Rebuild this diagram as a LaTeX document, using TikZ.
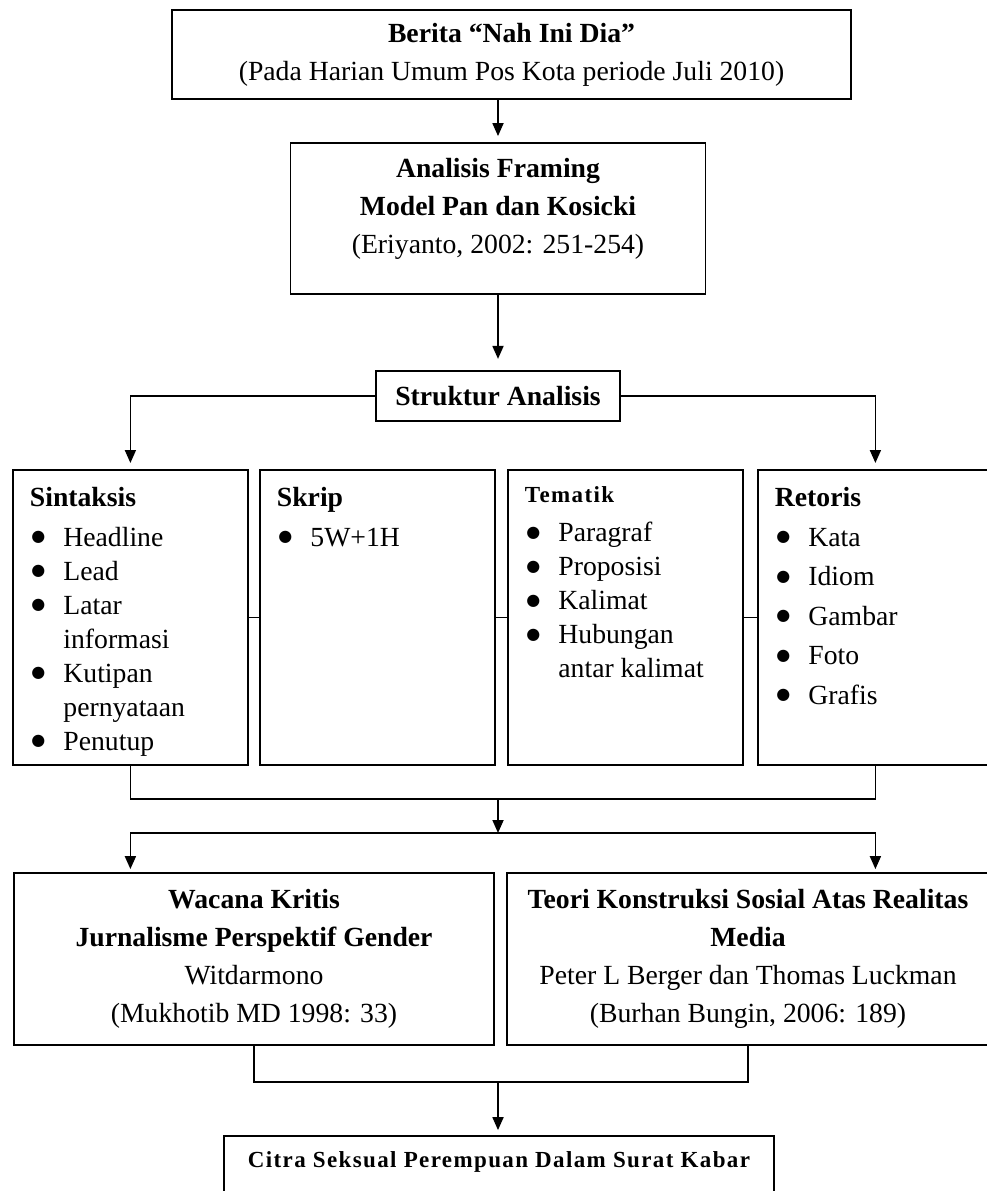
\documentclass[tikz,border=0pt]{standalone}
\usepackage{fontspec}
\setmainfont{Liberation Serif}
\newfontfamily\simbol{DejaVu Sans}
\usetikzlibrary{arrows.meta,positioning}

\newcommand{\judulkecil}[1]{{\fontsize{23pt}{28pt}\selectfont\bfseries\addfontfeatures{LetterSpace=6}#1}}
\newcommand{\titik}{\hspace*{1.5pt}\raisebox{4.4pt}{\fontsize{16pt}{16pt}\simbol ●}}
\newcommand{\isikolom}[4]{%
  \begin{minipage}[t][295pt][t]{201pt}
    \fontsize{27.7pt}{#2}\selectfont\parskip=0pt
    \vspace*{17pt}
    #1\par\vspace{#3}
    \begin{tabular}[t]{@{}p{33.5pt}@{}l@{}}#4\end{tabular}
  \end{minipage}}

\begin{document}
\begin{tikzpicture}[x=1pt, y=1pt, font=\fontsize{27.7pt}{38pt}\selectfont,
    kotak/.style={draw, line width=1.8pt, inner sep=0pt},
    kolom/.style={kotak, anchor=north west, minimum width=235pt, minimum height=295pt, inner xsep=17pt, inner ysep=0pt},
    panah/.style={-{Triangle[length=13pt,width=11pt]}, line width=1.8pt, shorten >=6pt},
    garis/.style={line width=1.8pt}]
\useasboundingbox (0,0) rectangle (987,-1191);

\node[kotak, align=center, minimum width=679pt, minimum height=89pt] (berita) at (511.5,-54.5) {\textbf{Berita “Nah Ini Dia”}\\(Pada Harian Umum Pos Kota periode Juli 2010)};
\node[kotak, align=center, minimum width=415pt, minimum height=151pt, text depth=26pt] (framing) at (498,-218.5) {\textbf{Analisis Framing}\\\textbf{Model Pan dan Kosicki}\\(Eriyanto, 2002: 251-254)};
\node[kotak, minimum width=244pt, minimum height=50pt, below=75pt of framing] (struktur) {\textbf{Struktur Analisis}};

% empat unsur struktur
\node[kolom] (sintaksis) at (12,-469) {\isikolom{\textbf{Sintaksis}}{34pt}{6pt}{%
  \titik & Headline\\ \titik & Lead\\ \titik & Latar\\ & informasi\\ \titik & Kutipan\\ & pernyataan\\ \titik & Penutup}};
\node[kolom] (skrip) at (259,-469) {\isikolom{\textbf{Skrip}}{34pt}{6pt}{\titik & 5W+1H}};
\node[kolom] (tematik) at (507,-469) {\isikolom{\judulkecil{Tematik}}{34pt}{5pt}{%
  \titik & Paragraf\\ \titik & Proposisi\\ \titik & Kalimat\\ \titik & Hubungan\\ & antar kalimat}};
\node[kolom] (retoris) at (757,-469) {\isikolom{\textbf{Retoris}}{39.5pt}{0.5pt}{%
  \titik & Kata\\ \titik & Idiom\\ \titik & Gambar\\ \titik & Foto\\ \titik & Grafis}};

\node[kotak, align=center, minimum width=480pt, minimum height=172pt] (wacana) at (254,-959) {\textbf{Wacana Kritis}\\\textbf{Jurnalisme Perspektif Gender}\\Witdarmono\\(Mukhotib MD 1998: 33)};
\node[kotak, align=center, minimum width=482pt, minimum height=172pt] (teori) at (748,-959) {\textbf{Teori Konstruksi Sosial Atas Realitas}\\\textbf{Media}\\Peter L Berger dan Thomas Luckman\\(Burhan Bungin, 2006: 189)};
\node[kotak, minimum width=550pt, minimum height=64pt, text depth=16pt] (citra) at (499,-1168) {\judulkecil{Citra Seksual Perempuan Dalam Surat Kabar}};

\coordinate (gabung) at (498,-799);
\coordinate (bagi) at (498,-833);
\coordinate (kumpul) at (498,-1082);

\draw[panah] (framing.north |- berita.south) -- (framing.north);
\draw[panah, shorten >=11pt] (framing.south) -- (framing.south |- struktur.north);
\draw[panah] (struktur.west) -| (sintaksis.north);
\draw[panah] (struktur.east) -| (retoris.north);
\draw[garis] (sintaksis.east) -- (skrip.west);
\draw[garis] (skrip.east) -- (tematik.west);
\draw[garis] (tematik.east) -- (retoris.west);
\draw[garis] (sintaksis.south) |- (gabung) -| (retoris.south);
\draw[panah, shorten >=0pt] (gabung) -- (bagi);
\draw[panah, shorten >=3pt] (bagi) -| (sintaksis.south |- wacana.north);
\draw[panah, shorten >=3pt] (bagi) -| (retoris.south |- teori.north);
\draw[garis] (wacana.south) |- (kumpul) -| (teori.south);
\draw[panah, shorten >=5pt] (kumpul) -- (kumpul |- citra.north);
\end{tikzpicture}
\end{document}
